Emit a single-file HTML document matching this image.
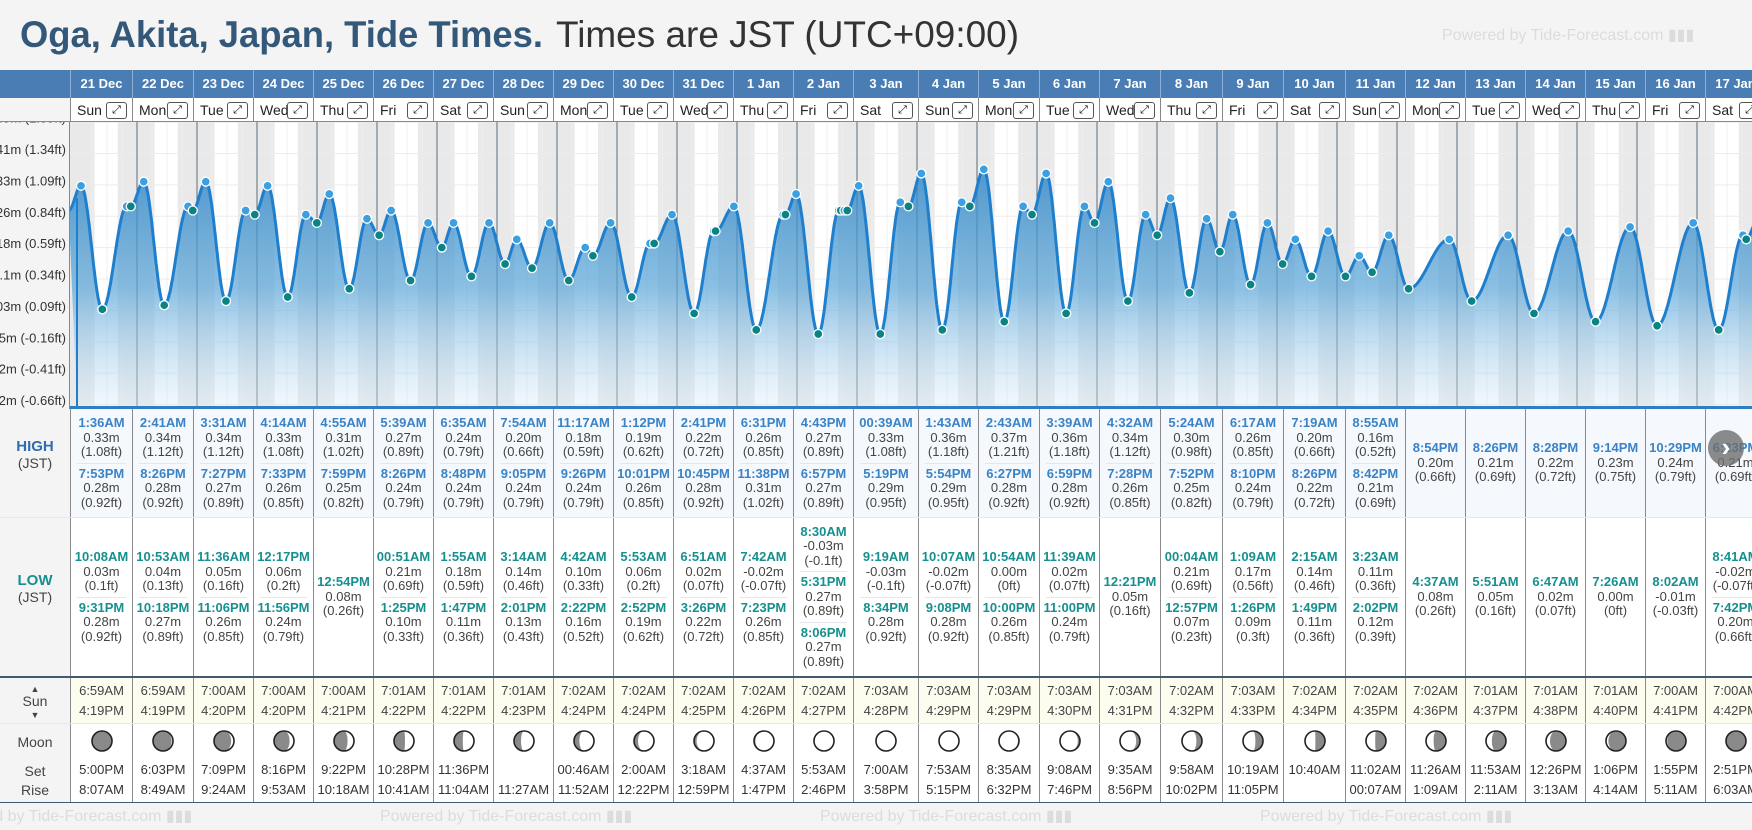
<!DOCTYPE html>
<html><head><meta charset="utf-8">
<style>
*{box-sizing:border-box;margin:0;padding:0}
body{width:1752px;height:830px;overflow:hidden;background:#f4f4f4;font-family:"Liberation Sans",Arial,sans-serif;position:relative}
.abs{position:absolute}
.hdr{background:#4a7db3;color:#fff;font-weight:bold;font-size:13px;text-align:center;line-height:28px;border-left:1px solid #8fb0d4}
.dayc{background:#fff;font-size:14px;color:#222;border-left:1px solid #888;border-bottom:1px solid #888;height:24px;line-height:24px;padding-left:6px}
.exp{position:absolute;right:5px;top:4px;width:21px;height:17px;border:1px solid #555;border-radius:3px;font-size:11px;line-height:14px;text-align:center;color:#111}
.col{border-left:1px solid #8a8a8a}
.ent{text-align:center;font-size:13px;line-height:14.5px;color:#444;padding:2px 0}
.tm{font-weight:bold}
.hi .tm{color:#3a83c6}
.lo .tm{color:#16908f}
.sep{height:1px;background:#e2e8ee;margin:1px 6px}
.lbl{font-size:14px;color:#444;text-align:center;width:70px;left:0}
.ft{color:#dcdcdc;font-size:16px;white-space:nowrap}
</style></head><body>
<svg class="abs" style="left:0;top:0" width="1100" height="60">
<text x="20" y="47" font-family="Liberation Sans, Arial, sans-serif" font-size="37" font-weight="bold" fill="#33587a" textLength="523" lengthAdjust="spacingAndGlyphs">Oga, Akita, Japan, Tide Times.</text>
<text x="556" y="47" font-family="Liberation Sans, Arial, sans-serif" font-size="37" fill="#333" textLength="463" lengthAdjust="spacingAndGlyphs">Times are JST (UTC+09:00)</text>
</svg>
<div class="abs ft" style="left:1442px;top:25px">Powered by Tide-Forecast.com ▮▮▮</div>
<div class="abs" style="left:0;top:70px;width:70px;height:28px;background:#4a7db3"></div>
<div class="abs" style="left:0;top:98px;width:70px;height:24px;background:#f4f4f4;border-bottom:1px solid #888"></div>
<div id="root"></div>
<svg id="chart" class="abs" style="left:0;top:122px" width="1752" height="288"></svg>
<div class="abs" style="left:1708px;top:430px;width:36px;height:36px;border-radius:18px;background:rgba(110,110,110,0.8);color:#fff;font-size:26px;line-height:34px;text-align:center;font-weight:bold">›</div>
<script>
// ---- data ----
const dates=["21 Dec","22 Dec","23 Dec","24 Dec","25 Dec","26 Dec","27 Dec","28 Dec","29 Dec","30 Dec","31 Dec","1 Jan","2 Jan","3 Jan","4 Jan","5 Jan","6 Jan","7 Jan","8 Jan","9 Jan","10 Jan","11 Jan","12 Jan","13 Jan","14 Jan","15 Jan","16 Jan","17 Jan"];
const weekdays=["Sun","Mon","Tue","Wed","Thu","Fri","Sat","Sun","Mon","Tue","Wed","Thu","Fri","Sat","Sun","Mon","Tue","Wed","Thu","Fri","Sat","Sun","Mon","Tue","Wed","Thu","Fri","Sat"];
// extremes: [dayIndex, time, metres, type]
const extremes=[
[0,"1:36AM",0.33,"H"],[0,"10:08AM",0.03,"L"],[0,"7:53PM",0.28,"H"],[0,"9:31PM",0.28,"L"],
[1,"2:41AM",0.34,"H"],[1,"10:53AM",0.04,"L"],[1,"8:26PM",0.28,"H"],[1,"10:18PM",0.27,"L"],
[2,"3:31AM",0.34,"H"],[2,"11:36AM",0.05,"L"],[2,"7:27PM",0.27,"H"],[2,"11:06PM",0.26,"L"],
[3,"4:14AM",0.33,"H"],[3,"12:17PM",0.06,"L"],[3,"7:33PM",0.26,"H"],[3,"11:56PM",0.24,"L"],
[4,"4:55AM",0.31,"H"],[4,"12:54PM",0.08,"L"],[4,"7:59PM",0.25,"H"],
[5,"00:51AM",0.21,"L"],[5,"5:39AM",0.27,"H"],[5,"1:25PM",0.10,"L"],[5,"8:26PM",0.24,"H"],
[6,"1:55AM",0.18,"L"],[6,"6:35AM",0.24,"H"],[6,"1:47PM",0.11,"L"],[6,"8:48PM",0.24,"H"],
[7,"3:14AM",0.14,"L"],[7,"7:54AM",0.20,"H"],[7,"2:01PM",0.13,"L"],[7,"9:05PM",0.24,"H"],
[8,"4:42AM",0.10,"L"],[8,"11:17AM",0.18,"H"],[8,"2:22PM",0.16,"L"],[8,"9:26PM",0.24,"H"],
[9,"5:53AM",0.06,"L"],[9,"1:12PM",0.19,"H"],[9,"2:52PM",0.19,"L"],[9,"10:01PM",0.26,"H"],
[10,"6:51AM",0.02,"L"],[10,"2:41PM",0.22,"H"],[10,"3:26PM",0.22,"L"],[10,"10:45PM",0.28,"H"],
[11,"7:42AM",-0.02,"L"],[11,"6:31PM",0.26,"H"],[11,"7:23PM",0.26,"L"],[11,"11:38PM",0.31,"H"],
[12,"8:30AM",-0.03,"L"],[12,"4:43PM",0.27,"H"],[12,"5:31PM",0.27,"L"],[12,"6:57PM",0.27,"H"],[12,"8:06PM",0.27,"L"],
[13,"00:39AM",0.33,"H"],[13,"9:19AM",-0.03,"L"],[13,"5:19PM",0.29,"H"],[13,"8:34PM",0.28,"L"],
[14,"1:43AM",0.36,"H"],[14,"10:07AM",-0.02,"L"],[14,"5:54PM",0.29,"H"],[14,"9:08PM",0.28,"L"],
[15,"2:43AM",0.37,"H"],[15,"10:54AM",0.00,"L"],[15,"6:27PM",0.28,"H"],[15,"10:00PM",0.26,"L"],
[16,"3:39AM",0.36,"H"],[16,"11:39AM",0.02,"L"],[16,"6:59PM",0.28,"H"],[16,"11:00PM",0.24,"L"],
[17,"4:32AM",0.34,"H"],[17,"12:21PM",0.05,"L"],[17,"7:28PM",0.26,"H"],
[18,"00:04AM",0.21,"L"],[18,"5:24AM",0.30,"H"],[18,"12:57PM",0.07,"L"],[18,"7:52PM",0.25,"H"],
[19,"1:09AM",0.17,"L"],[19,"6:17AM",0.26,"H"],[19,"1:26PM",0.09,"L"],[19,"8:10PM",0.24,"H"],
[20,"2:15AM",0.14,"L"],[20,"7:19AM",0.20,"H"],[20,"1:49PM",0.11,"L"],[20,"8:26PM",0.22,"H"],
[21,"3:23AM",0.11,"L"],[21,"8:55AM",0.16,"H"],[21,"2:02PM",0.12,"L"],[21,"8:42PM",0.21,"H"],
[22,"4:37AM",0.08,"L"],[22,"8:54PM",0.20,"H"],
[23,"5:51AM",0.05,"L"],[23,"8:26PM",0.21,"H"],
[24,"6:47AM",0.02,"L"],[24,"8:28PM",0.22,"H"],
[25,"7:26AM",0.00,"L"],[25,"9:14PM",0.23,"H"],
[26,"8:02AM",-0.01,"L"],[26,"10:29PM",0.24,"H"],
[27,"8:41AM",-0.02,"L"],[27,"6:23PM",0.21,"H"],[27,"7:42PM",0.20,"L"]];
const prevExtreme=[-1,"8:40PM",0.27,"L"];
const nextExtreme=[27,"11:50PM",0.24,"H"];
const sunRise=["6:59AM","6:59AM","7:00AM","7:00AM","7:00AM","7:01AM","7:01AM","7:01AM","7:02AM","7:02AM","7:02AM","7:02AM","7:02AM","7:03AM","7:03AM","7:03AM","7:03AM","7:03AM","7:02AM","7:03AM","7:02AM","7:02AM","7:02AM","7:01AM","7:01AM","7:01AM","7:00AM","7:00AM"];
const sunSet=["4:19PM","4:19PM","4:20PM","4:20PM","4:21PM","4:22PM","4:22PM","4:23PM","4:24PM","4:24PM","4:25PM","4:26PM","4:27PM","4:28PM","4:29PM","4:29PM","4:30PM","4:31PM","4:32PM","4:33PM","4:34PM","4:35PM","4:36PM","4:37PM","4:38PM","4:40PM","4:41PM","4:42PM"];
const moonSet=["5:00PM","6:03PM","7:09PM","8:16PM","9:22PM","10:28PM","11:36PM","","00:46AM","2:00AM","3:18AM","4:37AM","5:53AM","7:00AM","7:53AM","8:35AM","9:08AM","9:35AM","9:58AM","10:19AM","10:40AM","11:02AM","11:26AM","11:53AM","12:26PM","1:06PM","1:55PM","2:51PM"];
const moonRise=["8:07AM","8:49AM","9:24AM","9:53AM","10:18AM","10:41AM","11:04AM","11:27AM","11:52AM","12:22PM","12:59PM","1:47PM","2:46PM","3:58PM","5:15PM","6:32PM","7:46PM","8:56PM","10:02PM","11:05PM","","00:07AM","1:09AM","2:11AM","3:13AM","4:14AM","5:11AM","6:03AM"];
const moonLit=[0.02,0.07,0.14,0.22,0.32,0.45,0.56,0.65,0.73,0.8,0.87,0.93,0.98,1.0,0.99,0.95,0.89,0.81,0.72,0.62,0.52,0.46,0.38,0.29,0.2,0.12,0.06,0.02];
const moonWaxing=[1,1,1,1,1,1,1,1,1,1,1,1,1,1,0,0,0,0,0,0,0,0,0,0,0,0,0,0];
const yTicksFt=[1.59,1.34,1.09,0.84,0.59,0.34,0.09,-0.16,-0.41,-0.66];
const yTickLabels=["0.49m (1.59ft)","0.41m (1.34ft)","0.33m (1.09ft)","0.26m (0.84ft)","0.18m (0.59ft)","0.1m (0.34ft)","0.03m (0.09ft)","-0.05m (-0.16ft)","-0.12m (-0.41ft)","-0.2m (-0.66ft)"];

// ---- layout ----
const colW=[62,61,60,60,60,60,60,60,60,60,60,60,60,65,60,61,60,61,62,61,62,60,60,60,60,60,60,60];
const colX=[];{let x=70;for(const w of colW){colX.push(x);x+=w;}}
const parseT=s=>{const m=s.match(/(\d+):(\d+)(AM|PM)/);let h=(+m[1])%12;if(m[3]=="PM")h+=12;return h+ (+m[2])/60;};
const tOf=e=>e[0]+parseT(e[1])/24;
const X=t=>77+t*60;
const CT=122;
const Y=m=>404.5-(m*3.28084+0.66)*125.5; // page y
const ftStr=m=>String(parseFloat((m*3.28084).toFixed(2)));
const root=document.getElementById('root');
function div(cls,style,html,name,inter){const d=document.createElement('div');d.className=cls;d.setAttribute('style',style);if(html!=null)d.innerHTML=html;


root.appendChild(d);return d;}

// header rows
dates.forEach((d,i)=>{
  div('abs hdr',`left:${colX[i]}px;top:70px;width:${colW[i]}px;height:28px`,d,'date-header',false);
  const c=div('abs dayc',`left:${colX[i]}px;top:98px;width:${colW[i]}px`,weekdays[i],'weekday-cell',false);
  const e=document.createElement('div');e.className='exp';e.textContent='⤢';
  
  
  c.appendChild(e);
});

// chart
const NS='http://www.w3.org/2000/svg';
const svg=document.getElementById('chart');
function el(tag,attrs,name){const e=document.createElementNS(NS,tag);for(const k in attrs)e.setAttribute(k,attrs[k]);


svg.appendChild(e);return e;}
const defs=document.createElementNS(NS,'defs');
defs.innerHTML='<linearGradient id="fg" x1="0" y1="0" x2="0" y2="1"><stop offset="0" stop-color="#2e86c8" stop-opacity="0.82"/><stop offset="0.5" stop-color="#5aa5d8" stop-opacity="0.7"/><stop offset="1" stop-color="#d8ebf8" stop-opacity="0.35"/></linearGradient><clipPath id="cp"><rect x="70" y="0" width="1682" height="285"/></clipPath>';
svg.appendChild(defs);
const g=document.createElementNS(NS,'g');g.setAttribute('clip-path','url(#cp)');svg.appendChild(g);
function gel(tag,attrs,name){const e=el(tag,attrs,name);g.appendChild(e);return e;}
gel('rect',{x:70,y:0,width:1682,height:285,fill:'#e9e9e9'},'plot-background');
dates.forEach((d,i)=>{
  const r=parseT(sunRise[i])/24,s=parseT(sunSet[i])/24;
  gel('rect',{x:X(i+r),y:0,width:X(i+s)-X(i+r),height:285,fill:'#ffffff'},'daylight-band');
  [6,12,18].forEach(h=>gel('line',{x1:X(i+h/24),x2:X(i+h/24),y1:0,y2:285,stroke:'#f0f0f0','stroke-width':1},'hour-gridline'));
});
yTicksFt.forEach(f=>{const y=404.5-(f+0.66)*125.5-CT;gel('line',{x1:70,x2:1752,y1:y,y2:y,stroke:'#ececec','stroke-width':1},'y-gridline');});
for(let i=1;i<=28;i++)gel('line',{x1:X(i),x2:X(i),y1:0,y2:285,stroke:'#5c6b7a','stroke-width':1},'midnight-line');
// curve
const all=[prevExtreme,...extremes,nextExtreme].map(e=>({t:tOf(e),v:e[2]}));
let pts=[];
for(let k=0;k<all.length-1;k++){const a=all[k],b=all[k+1];const n=Math.max(4,Math.round((b.t-a.t)*96));
  for(let j=0;j<n;j++){const f=j/n;const v=a.v+(b.v-a.v)*(1-Math.cos(Math.PI*f))/2;pts.push([X(a.t+(b.t-a.t)*f),Y(v)-CT]);}}
pts.push([X(all[all.length-1].t),Y(all[all.length-1].v)-CT]);
const line=pts.map((p,i)=>(i?'L':'M')+p[0].toFixed(1)+','+p[1].toFixed(1)).join('');
gel('path',{d:line+`L${X(all[all.length-1].t)},285L${X(0)},285Z`,fill:'url(#fg)'},'tide-area');
gel('path',{d:line,fill:'none',stroke:'#1f7fcc','stroke-width':3},'tide-line');
gel('line',{x1:X(0),x2:X(0),y1:Y(0.3)-CT,y2:285,stroke:'#1f7fcc','stroke-width':2},'tide-left-edge');
extremes.forEach(e=>{gel('circle',{cx:X(tOf(e)),cy:Y(e[2])-CT,r:4.5,fill:e[3]=='H'?'#3aa0e2':'#0a8383',stroke:'#fff','stroke-width':1.3},e[3]=='H'?'high-point':'low-point');});
el('rect',{x:70,y:284,width:1682,height:3,fill:'#2f7fc0'},'chart-baseline');
el('line',{x1:69.5,x2:69.5,y1:0,y2:287,stroke:'#888'},'y-axis-line');
yTicksFt.forEach((f,i)=>{const y=404.5-(f+0.66)*125.5-CT-4;const t=el('text',{x:66,y:y+4.5,'text-anchor':'end','font-size':13,fill:'#333','font-family':'Liberation Sans, Arial, sans-serif'},'y-tick-label');t.textContent=yTickLabels[i];});

// table backgrounds
div('abs','left:0;top:409px;width:70px;height:421px;background:#f4f4f4','', 'row-labels',false);
div('abs','left:70px;top:409px;width:1682px;height:108px;background:#f5f9fd','', 'high-row-bg',false);
div('abs','left:0;top:517px;width:1752px;height:1px;background:#e3e9ef','', 'row-divider',false);
div('abs','left:70px;top:518px;width:1682px;height:158px;background:#fff','', 'low-row-bg',false);
div('abs','left:0;top:676px;width:1752px;height:2px;background:#3f5a72','', 'sun-divider',false);
div('abs','left:70px;top:678px;width:1682px;height:45px;background:#fcfcef','', 'sun-row-bg',false);
div('abs','left:0;top:723px;width:1752px;height:1px;background:#e8e8e8','', 'moon-divider',false);
div('abs','left:70px;top:724px;width:1682px;height:78px;background:#fff','', 'moon-row-bg',false);
div('abs','left:0;top:802px;width:1752px;height:1px;background:#3f5a72','', 'footer-divider',false);
div('abs','left:0;top:803px;width:1752px;height:27px;background:#f4f4f4','', 'footer',false);
div('abs lbl',`top:438px`,'<b style="color:#2e6db0;font-size:15px">HIGH</b><br>(JST)','high-label',false);
div('abs lbl',`top:572px`,'<b style="color:#16908f;font-size:15px">LOW</b><br>(JST)','low-label',false);
div('abs lbl',`top:681px;line-height:12px`,'<span style="font-size:9px">▲</span><br>Sun<br><span style="font-size:9px">▼</span>','sun-label',false);
div('abs lbl',`top:734px`,'Moon','moon-label',false);
div('abs lbl',`top:763px`,'Set','moon-set-label',false);
div('abs lbl',`top:782px`,'Rise','moon-rise-label',false);
[60,500,940,1380].forEach(x=>div('abs ft',`left:${x- 120}px;top:806px`,'Powered by Tide-Forecast.com ▮▮▮','powered-by-footer',true));

function moonSvg(f,wax){const r=10;const rx=Math.abs(1-2*f)*r;const side=wax?1:0;
  // lit region: semicircle on lit side + terminator
  const sweepOuter=wax?1:0;const sweepTerm=(f>0.5)?(wax?1:0):(wax?0:1);
  const d=`M12,2 A${r},${r} 0 0 ${sweepOuter} 12,22 A${rx.toFixed(2)},${r} 0 0 ${sweepTerm} 12,2Z`;
  return `<svg width="24" height="24"><circle cx="12" cy="12" r="10" fill="#8a8a8a"/><path d="${d}" fill="#fff"/><circle cx="12" cy="12" r="10" fill="none" stroke="#222" stroke-width="1.6"/></svg>`;}

dates.forEach((d,i)=>{
  const x=colX[i],w=colW[i];
  const ev=extremes.filter(e=>e[0]===i);
  const ent=e=>`<div class="ent"><div class="tm">${e[1]}</div><div>${e[2].toFixed(2)}m</div><div>(${ftStr(e[2])}ft)</div></div>`;
  const hi=ev.filter(e=>e[3]=='H'),lo=ev.filter(e=>e[3]=='L');
  div('abs col hi',`left:${x}px;top:409px;width:${w}px;height:108px;display:flex;flex-direction:column;justify-content:center`,hi.map(ent).join('<div class="sep"></div>'),'high-tide-cell',false);
  div('abs col lo',`left:${x}px;top:518px;width:${w}px;height:158px;display:flex;flex-direction:column;justify-content:center`,lo.map(ent).join('<div class="sep"></div>'),'low-tide-cell',false);
  div('abs col',`left:${x}px;top:678px;width:${w}px;height:45px;text-align:center;font-size:13px;color:#444;line-height:20px;padding-top:3px`,sunRise[i]+'<br>'+sunSet[i],'sun-times-cell',false);
  div('abs col',`left:${x}px;top:724px;width:${w}px;height:78px;text-align:center;font-size:13px;color:#333;line-height:20px;padding-top:5px`,moonSvg(moonLit[i],moonWaxing[i])+'<div style="margin-top:1px">'+(moonSet[i]||'&nbsp;')+'</div><div>'+(moonRise[i]||'&nbsp;')+'</div>','moon-cell',false);
});
</script>
</body></html>
